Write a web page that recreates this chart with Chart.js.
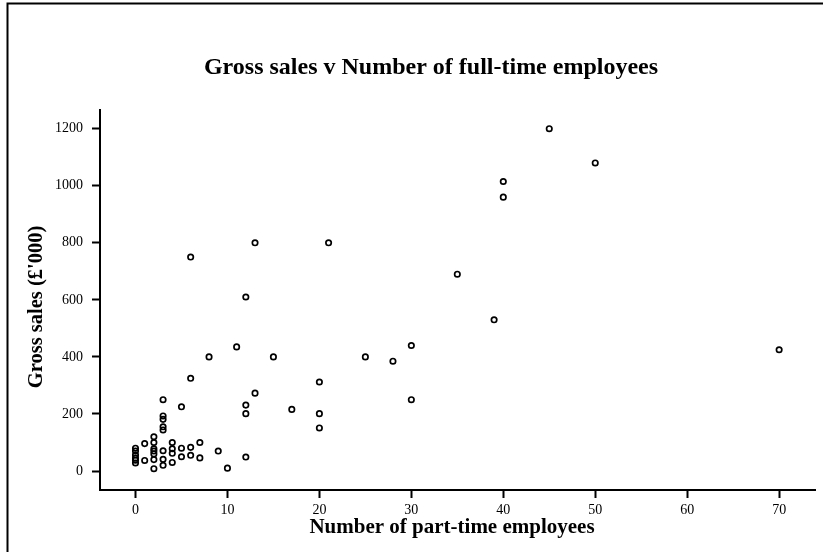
<!DOCTYPE html>
<html>
<head>
<meta charset="utf-8">
<script src="https://cdn.jsdelivr.net/npm/chart.js@4/dist/chart.umd.min.js"></script>
<style>
  html, body { margin: 0; padding: 0; background: #fff; }
  canvas { display: block; }
</style>
</head>
<body>
<canvas id="c" width="823" height="552"></canvas>
<script>
// Number of part-time employees for each business
const partTime = [
  0, 0, 0, 0, 0, 0,
  1, 1,
  2, 2, 2, 2, 2, 2, 2,
  3, 3, 3, 3, 3, 3, 3, 3,
  4, 4, 4, 4,
  5, 5, 5,
  6, 6, 6, 6,
  7, 7,
  8, 9, 10, 11,
  12, 12, 12, 12,
  13, 13,
  15, 17,
  20, 20, 20,
  21, 25, 28,
  30, 30,
  35, 39,
  40, 40,
  45, 50, 70
];
// Gross sales (£'000) for the same businesses
const grossSales = [
  80, 70, 56, 45, 38, 28,
  96, 37,
  120, 100, 78, 70, 60, 40, 8,
  250, 193, 181, 155, 144, 71, 41, 20,
  100, 78, 62, 30,
  225, 80, 50,
  750, 325, 83, 55,
  100, 46,
  400, 70, 10, 435,
  610, 231, 201, 49,
  800, 273,
  400, 216,
  312, 201, 151,
  800, 400, 385,
  440, 250,
  690, 530,
  1015, 960,
  1200, 1080, 425
];
const xTicks = [0, 10, 20, 30, 40, 50, 60, 70];
const yTicks = [0, 200, 400, 600, 800, 1000, 1200];

const chartTitle = 'Gross sales v Number of full-time employees';
const xTitle = 'Number of part-time employees';
const yTitle = "Gross sales (£'000)";

const SERIF = '"Liberation Serif", "Times New Roman", serif';

// Outer frame and the three titles
const decorations = {
  id: 'decorations',
  afterDraw(chart) {
    const ctx = chart.ctx;
    ctx.save();
    ctx.strokeStyle = '#000';
    ctx.lineWidth = 2;
    ctx.beginPath();
    ctx.moveTo(7.5, 560);
    ctx.lineTo(7.5, 3.5);
    ctx.lineTo(830, 3.5);
    ctx.stroke();

    ctx.fillStyle = '#000';
    ctx.textAlign = 'center';
    ctx.textBaseline = 'middle';
    ctx.font = 'bold 24px ' + SERIF;
    ctx.fillText(chartTitle, 431, 68);

    ctx.font = 'bold 21px ' + SERIF;
    ctx.fillText(xTitle, 452, 528);

    ctx.font = 'bold 20.5px ' + SERIF;
    ctx.translate(37, 307);
    ctx.rotate(-Math.PI / 2);
    ctx.fillText(yTitle, 0, 0);
    ctx.restore();
  }
};

const plainLabel = v => String(v);

new Chart(document.getElementById('c'), {
  type: 'scatter',
  data: {
    datasets: [{
      data: partTime.map((x, i) => ({ x, y: grossSales[i] })),
      pointStyle: 'circle',
      pointRadius: 2.7,
      pointBorderWidth: 1.7,
      pointBorderColor: '#000',
      pointBackgroundColor: 'rgba(0,0,0,0)'
    }]
  },
  options: {
    responsive: false,
    animation: false,
    events: [],
    layout: { padding: { top: 110, right: 8, left: 0, bottom: 0 } },
    plugins: {
      legend: { display: false },
      tooltip: { enabled: false },
      title: { display: false }
    },
    scales: {
      x: {
        type: 'linear',
        min: -3.86,
        max: 73.9,
        afterBuildTicks: s => { s.ticks = xTicks.map(v => ({ value: v })); },
        afterFit: s => { s.height = 62; },
        grid: { drawOnChartArea: false, drawTicks: true, tickLength: 8, tickWidth: 2, tickColor: '#000' },
        border: { display: true, color: '#000', width: 2 },
        ticks: { color: '#000', padding: 4, callback: plainLabel, font: { family: SERIF, size: 14 } }
      },
      y: {
        type: 'linear',
        min: -66.6,
        max: 1265.6,
        afterBuildTicks: s => { s.ticks = yTicks.map(v => ({ value: v })); },
        afterFit: s => { s.width = 100; },
        grid: { drawOnChartArea: false, drawTicks: true, tickLength: 8, tickWidth: 2, tickColor: '#000' },
        border: { display: true, color: '#000', width: 2 },
        ticks: { color: '#000', padding: 9, callback: plainLabel, font: { family: SERIF, size: 14 } }
      }
    }
  },
  plugins: [decorations]
});
</script>
</body>
</html>
